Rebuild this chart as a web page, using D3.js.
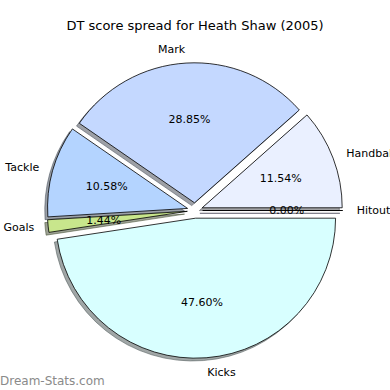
<!DOCTYPE html>
<html><head><meta charset="utf-8">
<script src="https://cdn.jsdelivr.net/npm/d3@7"></script>
<style>body{margin:0;background:#fff}svg{display:block}</style>
</head><body>
<script>
const title = "DT score spread for Heath Shaw (2005)";
const categories = ["Hitout", "Handball", "Mark", "Tackle", "Goals", "Kicks"];
const values = [0, 24, 60, 22, 3, 99];
const colors = ["#d0d0ff", "#eaf0ff", "#c4d8ff", "#b4d4ff", "#c8e68c", "#d8ffff"];

const W = 390, H = 390;
const cx = 195, cy = 210.5, R = 140, ex = 0.055 * R;
const svg = d3.select("body").append("svg").attr("width", W).attr("height", H)
  .style("font-family", "'DejaVu Sans', sans-serif");

const total = d3.sum(values);
const pie = d3.pie().sort(null).value(d => d.v)
  .startAngle(Math.PI / 2).endAngle(Math.PI / 2 - 2 * Math.PI);
const data = pie(categories.map((c, i) => ({c, v: values[i], col: colors[i]})));
const arc = d3.arc().innerRadius(0).outerRadius(R);
const dir = d => { const m = (d.startAngle + d.endAngle) / 2; return [Math.sin(m), -Math.cos(m)]; };
const dark = col => { const c = d3.rgb(col); return d3.rgb(c.r * 0.3, c.g * 0.3, c.b * 0.3).formatHex(); };

// shadows
svg.append("g").selectAll("path").data(data).join("path")
  .attr("d", arc)
  .attr("transform", d => { const [x, y] = dir(d); return `translate(${cx + ex * x - 0.02 * R},${cy + ex * y + 0.02 * R})`; })
  .attr("fill", d => dark(d.data.col)).attr("fill-opacity", 0.5)
  .attr("stroke", d => dark(d.data.col)).attr("stroke-opacity", 0.5).attr("stroke-width", 1);

// wedges
svg.append("g").selectAll("path").data(data).join("path")
  .attr("d", arc)
  .attr("transform", d => { const [x, y] = dir(d); return `translate(${cx + ex * x},${cy + ex * y})`; })
  .attr("fill", d => d.data.col)
  .attr("stroke", "#000").attr("stroke-width", 0.8).attr("stroke-linejoin", "miter");

// labels
const lg = svg.append("g").style("font-size", "11px").attr("fill", "#000");
data.forEach(d => {
  const [x, y] = dir(d);
  const ox = cx + ex * x, oy = cy + ex * y;
  lg.append("text").attr("x", ox + 1.1 * R * x).attr("y", oy + 1.1 * R * y)
    .attr("dy", "0.35em").attr("text-anchor", x > 0 ? "start" : "end").text(d.data.c);
  lg.append("text").attr("x", ox + 0.6 * R * x).attr("y", oy + 0.6 * R * y)
    .attr("dy", "0.35em").attr("text-anchor", "middle")
    .text((100 * d.data.v / total).toFixed(2) + "%");
});

svg.append("text").attr("x", 195).attr("y", 30).attr("text-anchor", "middle")
  .style("font-size", "13px").text(title);

svg.append("text").attr("x", 0).attr("y", 385)
  .style("font-size", "12px").attr("fill", "#8a8a8a")
  .text("Dream-Stats.com");
</script>
</body></html>
